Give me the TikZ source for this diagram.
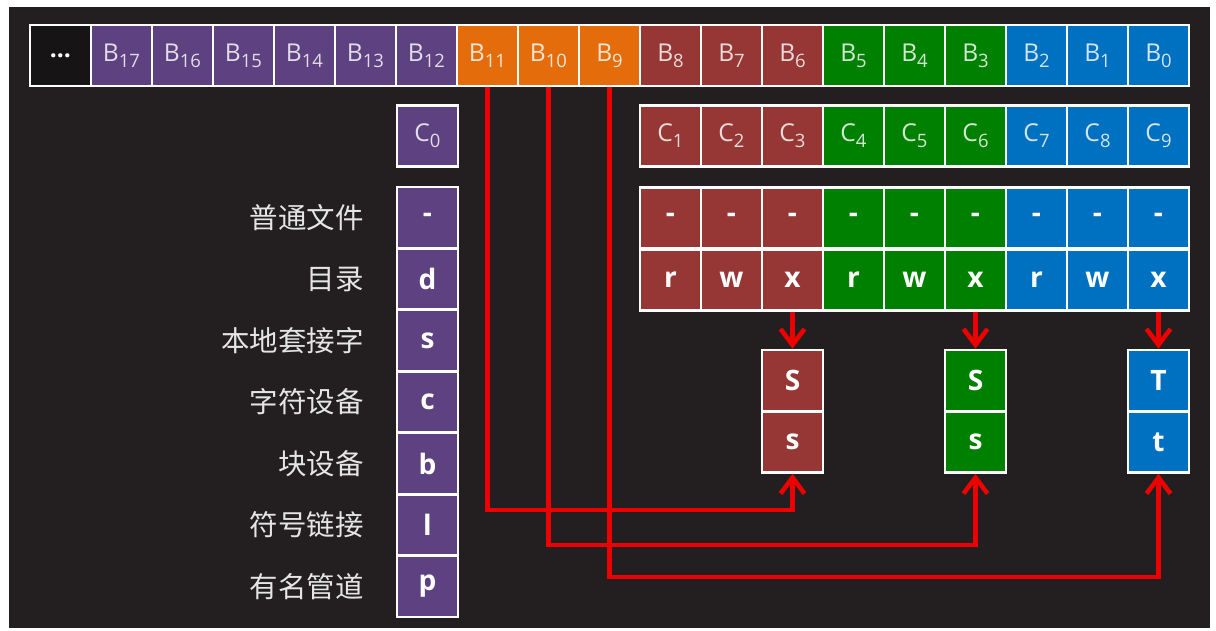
\documentclass[tikz,border=0pt]{standalone}
\usepackage{fontspec}
\setmainfont{Open Sans}
\newfontfamily\cjk{Noto Sans CJK SC}
\usetikzlibrary{arrows.meta}
\definecolor{bgdark}{RGB}{35,31,32}
\definecolor{cdots}{RGB}{22,20,21}
\definecolor{cpurple}{RGB}{93,65,128}
\definecolor{corange}{RGB}{228,108,10}
\definecolor{cred}{RGB}{150,55,53}
\definecolor{cgreen}{RGB}{0,128,0}
\definecolor{cblue}{RGB}{0,112,192}
\definecolor{cline}{RGB}{236,0,0}
\newcommand\lowidx[1]{\raisebox{-0.45ex}{\fontsize{10.5}{10.5}\selectfont #1}}
\tikzset{
  cell/.style={draw=white, line width=1.5pt, minimum width=1.22cm, minimum height=1.22cm, inner sep=0pt, font=\fontsize{14}{14}\selectfont},
  bit/.style={cell, text=white, font=\bfseries\fontsize{16}{16}\selectfont},
  kind/.style={anchor=east, text=white!90!black, font=\cjk\fontsize{16.2}{16.2}\selectfont},
  link/.style={draw=cline, line width=2.6pt, -{Straight Barb[length=3.2mm, width=4.8mm]}}
}

\begin{document}
\begin{tikzpicture}[x=0.02cm, y=-0.02cm]
        % page and dark panel
        \fill[white] (0,0) rectangle (1216,631);
        \fill[bgdark] (9,7) rectangle (1210,628);
        % bit row B
        \node[cell, fill=cdots, text=white] (bdots) at (60.5,55.5) {\textbf{...}};
        \foreach \n/\col [count=\i] in {17/cpurple,16/cpurple,15/cpurple,14/cpurple,13/cpurple,12/cpurple,
            11/corange,10/corange,9/corange,8/cred,7/cred,6/cred,5/cgreen,4/cgreen,3/cgreen,2/cblue,1/cblue,0/cblue}
          \node[cell, fill=\col, text=white!82!\col] (b\n) at ({30+61*(\i+0.5)},55.5) {B\lowidx{\n}};
        % character row C
        \node[cell, fill=cpurple, text=white!82!cpurple] (c0) at (427.5,136) {C\lowidx{0}};
        \foreach \n/\col in {1/cred,2/cred,3/cred,4/cgreen,5/cgreen,6/cgreen,7/cblue,8/cblue,9/cblue}
          \node[cell, fill=\col, text=white!82!\col] (c\n) at ({640+61*(\n-0.5)},136) {C\lowidx{\n}};
        % file types
        \foreach \t/\k [count=\j from 0] in {-/普通文件,d/目录,s/本地套接字,c/字符设备,b/块设备,l/符号链接,p/有名管道} {
          \node[bit, fill=cpurple] (t\j) at (427.5,{217.5+61.5*\j}) {\t};
          \node[kind] (k\j) at (370,{217.5+61.5*\j}) {\k};
        }
        % permission bits
        \foreach \n/\col/\r in {1/cred/r,2/cred/w,3/cred/x,4/cgreen/r,5/cgreen/w,6/cgreen/x,7/cblue/r,8/cblue/w,9/cblue/x} {
          \node[bit, fill=\col] (p\n) at ({640+61*(\n-0.5)},218) {-};
          \node[bit, fill=\col] (q\n) at ({640+61*(\n-0.5)},280) {\r};
        }
        % special bits
        \node[bit, fill=cred] (su) at (792.5,380.5) {S};
        \node[bit, fill=cred] (sl) at (792.5,442) {s};
        \node[bit, fill=cgreen] (gu) at (975.5,380.5) {S};
        \node[bit, fill=cgreen] (gl) at (975.5,442) {s};
        \node[bit, fill=cblue] (tu) at (1158.5,380.5) {T};
        \node[bit, fill=cblue] (tl) at (1158.5,442) {t};
        \draw[link] (q3.south) -- (su.north);
        \draw[link] (q6.south) -- (gu.north);
        \draw[link] (q9.south) -- (tu.north);
        \draw[link] (b11.south) -- (b11.south |- 0,510) -| (sl.south);
        \draw[link] (b10.south) -- (b10.south |- 0,545) -| (gl.south);
        \draw[link] (b9.south) -- (b9.south |- 0,577) -| (tl.south);
      \end{tikzpicture}
\end{document}
